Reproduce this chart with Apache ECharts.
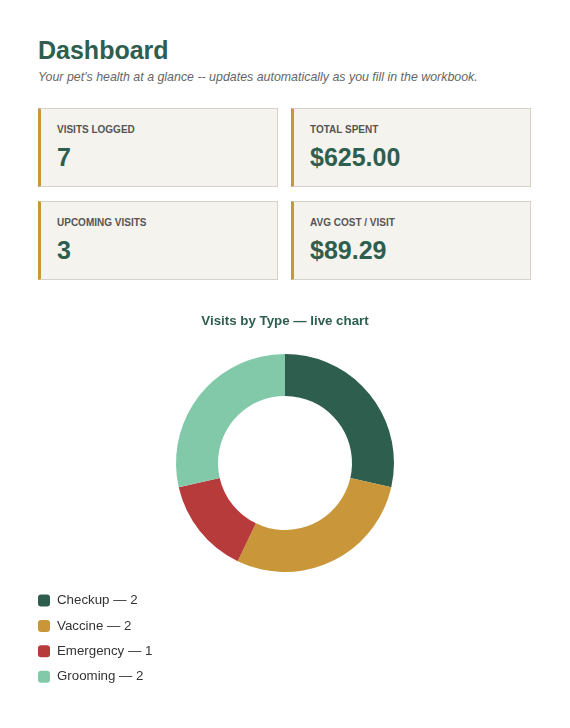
<!DOCTYPE html>
<html>
<head>
<meta charset="utf-8">
<script src="https://cdn.jsdelivr.net/npm/echarts@6/dist/echarts.min.js"></script>
<style>
  html, body { margin: 0; padding: 0; background: #fff; font-family: "Liberation Sans", Arial, sans-serif; }
  #page { position: relative; width: 570px; height: 728px; overflow: hidden; }
  h1 { position: absolute; left: 38px; top: 35px; margin: 0; font-size: 25px; font-weight: bold; color: #2e5e4e; line-height: 30px; }
  .sub { position: absolute; left: 38px; top: 69px; font-size: 12.4px; font-style: italic; color: #666; line-height: 16px; }
  .card { position: absolute; width: 236px; height: 77px; background: #f5f3ee; border: 1px solid #d6d2ca; border-left: 3px solid #c9973a; box-sizing: content-box; }
  .card .lab { position: absolute; left: 16px; top: 15px; font-size: 10px; font-weight: bold; color: #555; letter-spacing: 0px; }
  .card .val { position: absolute; left: 16px; top: 33px; font-size: 25px; font-weight: bold; color: #2e5e4e; line-height: 30px; }
  #chart { position: absolute; left: 0; top: 300px; width: 570px; height: 428px; }
</style>
</head>
<body>
<div id="page">
  <h1>Dashboard</h1>
  <div class="sub">Your pet's health at a glance -- updates automatically as you fill in the workbook.</div>
  <div id="cards"></div>
  <div id="chart"></div>
</div>
<script>
const cardLabels = ["VISITS LOGGED", "TOTAL SPENT", "UPCOMING VISITS", "AVG COST / VISIT"];
const cardValues = ["7", "$625.00", "3", "$89.29"];
const categories = ["Checkup", "Vaccine", "Emergency", "Grooming"];
const visitCounts = [2, 2, 1, 2];
const colors = ["#2e5e4e", "#c9973a", "#b83b3b", "#82c9aa"];

const cardPos = [[38,108],[291,108],[38,201],[291,201]];
const cardsEl = document.getElementById('cards');
cardLabels.forEach((l, i) => {
  const d = document.createElement('div');
  d.className = 'card';
  d.style.left = cardPos[i][0] + 'px';
  d.style.top = cardPos[i][1] + 'px';
  d.innerHTML = '<div class="lab"></div><div class="val"></div>';
  d.querySelector('.lab').textContent = l;
  d.querySelector('.val').textContent = cardValues[i];
  cardsEl.appendChild(d);
});

const chart = echarts.init(document.getElementById('chart'), null, { renderer: 'canvas' });
const data = categories.map((c, i) => ({ name: c, value: visitCounts[i], itemStyle: { color: colors[i] } }));
chart.setOption({
  animation: false,
  title: {
    text: 'Visits by Type — live chart',
    left: 'center', top: 10,
    textStyle: { fontFamily: 'Liberation Sans', fontSize: 13.3, fontWeight: 'bold', color: '#2e5e4e' }
  },
  legend: {
    orient: 'vertical', left: 33, top: 289,
    itemWidth: 12, itemHeight: 12, itemGap: 12.4, icon: 'roundRect',
    textStyle: { fontFamily: 'Liberation Sans', fontSize: 13.3, color: '#333', padding: [0, 0, 0, 2] },
    formatter: name => name + ' — ' + visitCounts[categories.indexOf(name)],
    selectedMode: false
  },
  series: [{
    type: 'pie',
    center: [285, 163],
    radius: [67, 109],
    startAngle: 90,
    clockwise: true,
    label: { show: false },
    labelLine: { show: false },
    emphasis: { disabled: true },
    data: data
  }]
});
</script>
</body>
</html>
